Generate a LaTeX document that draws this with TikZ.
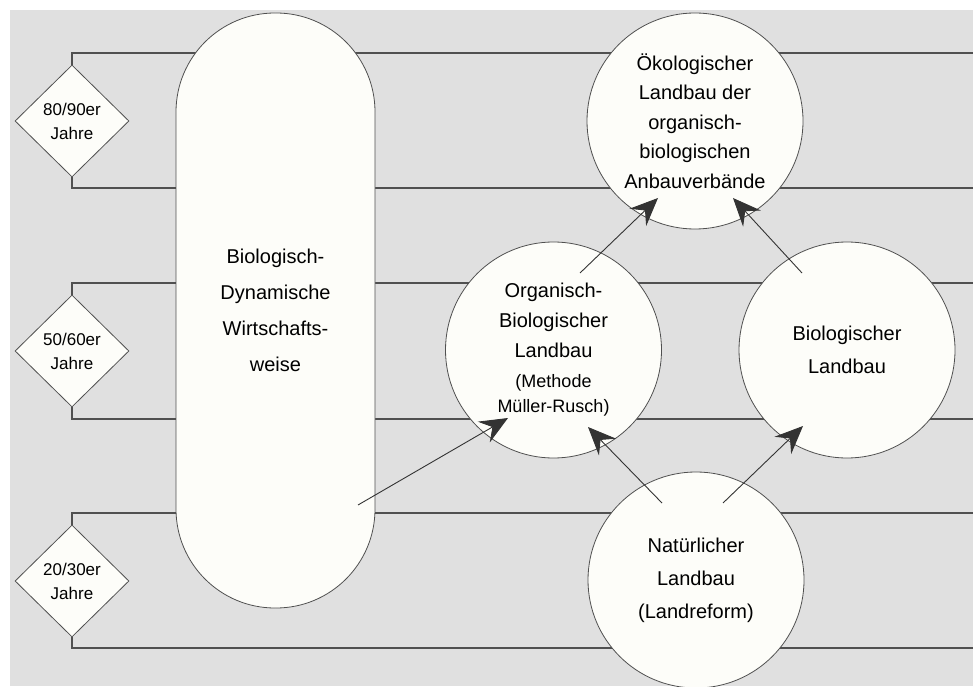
\documentclass[tikz,border=0pt]{standalone}
\usepackage{fontspec}
\setmainfont{Liberation Sans}
\usetikzlibrary{shapes.geometric,arrows.meta,calc}
\definecolor{bggray}{RGB}{224,224,224}
\definecolor{shapefill}{RGB}{253,253,249}
\definecolor{linegray}{RGB}{80,80,80}
\newcommand{\methodsmall}{\fontsize{18}{25}\selectfont}

\begin{document}
\begin{tikzpicture}[x=1pt, y=1pt,
	epoch/.style = {shape=diamond, draw=linegray, fill=shapefill, line width=0.8pt,
		minimum width=114pt, minimum height=112pt, inner sep=0pt, align=center,
		font=\fontsize{17}{24}\selectfont},
	method/.style = {shape=circle, draw=linegray, fill=shapefill, line width=0.8pt,
		minimum size=216pt, inner sep=0pt, align=center,
		font=\fontsize{20}{30}\selectfont},
	era/.style = {draw=linegray, line width=1.4pt},
	influence/.style = {draw=black!80, line width=0.9pt,
		-{Stealth[length=28pt, width=24pt, inset=10pt]}}]
	\useasboundingbox (0,0) rectangle (973,686);
	\fill[bggray] (10,0) rectangle (973,676);

	% decades
	\node[epoch] (y8090) at (72,565) {80/90er\\Jahre};
	\node[epoch] (y5060) at (72,335) {50/60er\\Jahre};
	\node[epoch] (y2030) at (72,105) {20/30er\\Jahre};
	\coordinate (y8090top) at (973,633);
	\coordinate (y8090bot) at (973,498);
	\coordinate (y5060top) at (973,403);
	\coordinate (y5060bot) at (973,267);
	\coordinate (y2030top) at (973,173);
	\coordinate (y2030bot) at (973,38);
	\draw[era] (y8090.north) |- (y8090top);
	\draw[era] (y8090.south) |- (y8090bot);
	\draw[era] (y5060.north) |- (y5060top);
	\draw[era] (y5060.south) |- (y5060bot);
	\draw[era] (y2030.north) |- (y2030top);
	\draw[era] (y2030.south) |- (y2030bot);

	% movements
	\node[shape=rectangle, draw=linegray, fill=shapefill, line width=0.8pt,
		rounded corners=99pt, minimum width=199pt, minimum height=595pt,
		inner sep=0pt, align=center, font=\fontsize{20}{36}\selectfont]
		(bdw) at (275.5,375.5) {Biologisch-\\Dynamische\\Wirtschafts-\\weise};
	\node[method, font=\fontsize{20}{29.5}\selectfont] (oek) at (695,565)
		{Ökologischer\\Landbau der\\organisch-\\biologischen\\Anbauverbände};
	\node[method] (org) at (553.5,336)
		{Organisch-\\Biologischer\\Landbau\\{\methodsmall(Methode}\\[-5pt]{\methodsmall Müller-Rusch)}};
	\node[method, font=\fontsize{20}{33}\selectfont] (bio) at (847,336)
		{Biologischer\\Landbau};
	\node[method, font=\fontsize{20}{33}\selectfont] (nat) at (696,106)
		{Natürlicher\\Landbau\\(Landreform)};

	\draw[influence] ($(bdw)+(82.5,-194.5)$) -- ($(org)+(-45.5,-68)$);
	\draw[influence] ($(org)+(26.5,77)$) -- ($(oek)+(-37,-77)$);
	\draw[influence] ($(bio)+(-45,77)$) -- ($(oek)+(38,-77)$);
	\draw[influence] ($(nat)+(-34,77)$) -- ($(org)+(34.5,-77)$);
	\draw[influence] ($(nat)+(27,77)$) -- ($(bio)+(-44,-76)$);
\end{tikzpicture}
\end{document}
